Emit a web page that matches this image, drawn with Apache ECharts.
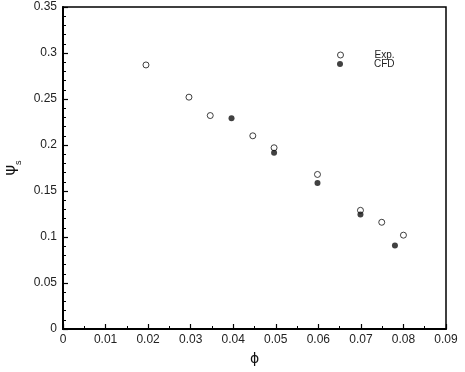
<!DOCTYPE html>
<html><head><meta charset="utf-8">
<script src="https://cdn.jsdelivr.net/npm/echarts@6/dist/echarts.min.js"></script>
<style>html,body{margin:0;padding:0;background:#fff}#c{width:465px;height:372px}</style>
</head><body><div id="c"></div>
<script>
const expX = [0.0195, 0.0296, 0.0346, 0.0446, 0.0496, 0.0598, 0.0699, 0.0749, 0.0800];
const expY = [0.287, 0.252, 0.232, 0.210, 0.197, 0.168, 0.129, 0.116, 0.102];
const cfdX = [0.0396, 0.0496, 0.0598, 0.0699, 0.0780];
const cfdY = [0.229, 0.1915, 0.1586, 0.1244, 0.0908];
const xTicks = ['0','0.01','0.02','0.03','0.04','0.05','0.06','0.07','0.08','0.09'];
const yTicks = ['0','0.05','0.1','0.15','0.2','0.25','0.3','0.35'];

const font = 'Liberation Sans, Arial, sans-serif';
const chart = echarts.init(document.getElementById('c'), null, {renderer:'canvas'});
chart.setOption({
  animation:false,
  backgroundColor:'#fff',
  grid:{left:63,right:19,top:7,bottom:43,show:true,borderColor:'#000',borderWidth:1.5,
        containLabel:false,outerBoundsMode:'none'},
  legend:[
    {data:['Exp.'],left:332,top:45,orient:'vertical',itemWidth:6,itemHeight:6,itemGap:0,
     itemStyle:{borderWidth:1},
     textStyle:{fontFamily:font,fontSize:10,color:'#222',padding:[1,0,0,26]}},
    {data:['CFD'],left:332,top:54,orient:'vertical',itemWidth:6,itemHeight:6,itemGap:0,
     textStyle:{fontFamily:font,fontSize:10,color:'#222',padding:[1,0,0,26]}}
  ],
  xAxis:{type:'value',min:0,max:0.09,interval:0.01,
    name:'ϕ',nameLocation:'middle',nameGap:23,
    nameTextStyle:{fontFamily:'DejaVu Sans',fontSize:14,color:'#111'},
    axisLine:{show:true,lineStyle:{color:'#000',width:2}},
    axisTick:{show:true,inside:true,length:5,lineStyle:{color:'#000',width:1.2}},
    minorTick:{show:true,splitNumber:2,length:3,lineStyle:{color:'#000'}},
    splitLine:{show:false},
    axisLabel:{fontFamily:font,fontSize:12,color:'#222',margin:5,
      formatter:(v)=>xTicks[Math.round(v*100)]}
  },
  yAxis:{type:'value',min:0,max:0.35,interval:0.05,
    name:'{a|ψ}{b|s}',nameLocation:'middle',nameGap:34,nameRotate:90,
    nameTextStyle:{rich:{a:{fontFamily:'DejaVu Sans',fontSize:16,color:'#111'},
      b:{fontFamily:font,fontSize:9,color:'#111',verticalAlign:'bottom',padding:[0,0,-4,0]}}},
    axisLine:{show:true,lineStyle:{color:'#000',width:2}},
    axisTick:{show:true,inside:true,length:5,lineStyle:{color:'#000',width:1.2}},
    minorTick:{show:true,splitNumber:5,length:3,lineStyle:{color:'#000'}},
    splitLine:{show:false},
    axisLabel:{fontFamily:font,fontSize:12,color:'#222',margin:6,
      formatter:(v)=>yTicks[Math.round(v*20)]}
  },
  series:[
    {name:'Exp.',type:'scatter',symbol:'circle',symbolSize:6,
     itemStyle:{color:'#fff',borderColor:'#111',borderWidth:1},
     data:expX.map((x,i)=>[x,expY[i]]),z:3},
    {name:'CFD',type:'scatter',symbol:'circle',symbolSize:6,
     itemStyle:{color:'#111',borderColor:'#111',borderWidth:0},
     data:cfdX.map((x,i)=>[x,cfdY[i]]),z:4}
  ]
});
</script></body></html>
